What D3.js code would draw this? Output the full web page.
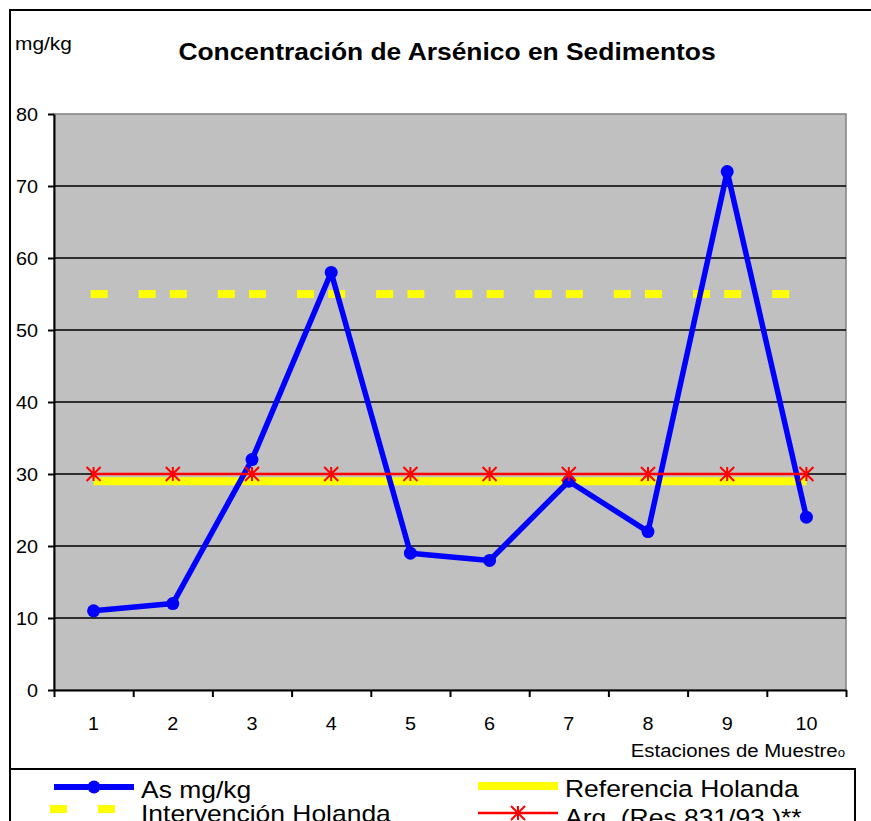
<!DOCTYPE html>
<html>
<head>
<meta charset="utf-8">
<script src="https://cdn.jsdelivr.net/npm/d3@7"></script>
<style>
  body { margin: 0; background: #fff; }
  text { font-family: "Liberation Sans", Arial, sans-serif; fill: #000; }
</style>
</head>
<body>
<div id="chart"></div>
<script>
// data
var estaciones = ["1", "2", "3", "4", "5", "6", "7", "8", "9", "10"];
var asValues = [11, 12, 32, 58, 19, 18, 29, 22, 72, 24];
var intervencion = [55, 55, 55, 55, 55, 55, 55, 55, 55, 55];
var referencia = [29, 29, 29, 29, 29, 29, 29, 29, 29, 29];
var argentina = [30, 30, 30, 30, 30, 30, 30, 30, 30, 30];
var yTicks = [0, 10, 20, 30, 40, 50, 60, 70, 80];

var W = 871, H = 821;
var margin = { top: 114, right: 25, bottom: 131, left: 54 };
var SX = 1.1; // the original font looks a little wide

var svg = d3.select("#chart").append("svg")
  .attr("width", W)
  .attr("height", H);

// outer frame (runs off the right and bottom edge)
svg.append("rect")
  .attr("x", 10).attr("y", 10)
  .attr("width", 900).attr("height", 900)
  .attr("fill", "#fff")
  .attr("stroke", "#000")
  .attr("stroke-width", 2);

var x = d3.scaleBand()
  .domain(estaciones)
  .range([margin.left, W - margin.right])
  .padding(0);

var xEdge = d3.scaleLinear()
  .domain([0, estaciones.length])
  .range([margin.left, W - margin.right]);

var y = d3.scaleLinear()
  .domain([0, 80])
  .range([H - margin.bottom, margin.top]);

function cx(d, i) { return x(estaciones[i]) + x.bandwidth() / 2; }

// plot area
svg.append("rect")
  .attr("x", margin.left)
  .attr("y", margin.top)
  .attr("width", W - margin.right - margin.left)
  .attr("height", H - margin.bottom - margin.top)
  .attr("fill", "#c0c0c0")
  .attr("stroke", "#808080")
  .attr("stroke-width", 1.5);

// gridlines
svg.append("g")
  .selectAll("line")
  .data(yTicks.slice(1, -1))
  .enter().append("line")
  .attr("x1", margin.left).attr("x2", W - margin.right)
  .attr("y1", function (d) { return y(d); })
  .attr("y2", function (d) { return y(d); })
  .attr("stroke", "#000")
  .attr("stroke-width", 1.5);

// y axis
var yAxis = svg.append("g")
  .attr("transform", "translate(" + margin.left + ",0)")
  .call(d3.axisLeft(y).tickValues(yTicks).tickSize(6).tickSizeOuter(0).tickFormat(""));
yAxis.selectAll("path, line").attr("stroke", "#000").attr("stroke-width", 2);

svg.append("g")
  .selectAll("text")
  .data(yTicks)
  .enter().append("text")
  .attr("transform", function (d) { return "translate(38," + (y(d) + 7) + ") scale(" + SX + ",1)"; })
  .attr("text-anchor", "end")
  .style("font-size", "18px")
  .text(function (d) { return d; });

// x axis, ticks between the stations
var xAxis = svg.append("g")
  .attr("transform", "translate(0," + (H - margin.bottom) + ")")
  .call(d3.axisBottom(xEdge).tickValues(d3.range(0, estaciones.length + 1)).tickSize(7).tickSizeOuter(0).tickFormat(""));
xAxis.selectAll("path, line").attr("stroke", "#000").attr("stroke-width", 2);

svg.append("g")
  .selectAll("text")
  .data(estaciones)
  .enter().append("text")
  .attr("transform", function (d) { return "translate(" + (x(d) + x.bandwidth() / 2) + ",730) scale(" + SX + ",1)"; })
  .attr("text-anchor", "middle")
  .style("font-size", "18px")
  .text(function (d) { return d; });

var xTitle = svg.append("text")
  .attr("transform", "translate(845,757) scale(" + SX + ",1)")
  .attr("text-anchor", "end")
  .style("font-size", "18.5px");
xTitle.append("tspan").text("Estaciones de Muestre");
xTitle.append("tspan").style("font-size", "12px").text("o");

// titles
svg.append("text")
  .attr("transform", "translate(447,60) scale(" + SX + ",1)")
  .attr("text-anchor", "middle")
  .style("font-size", "24px")
  .style("font-weight", "bold")
  .text("Concentración de Arsénico en Sedimentos");

svg.append("text")
  .attr("transform", "translate(15,50) scale(" + SX + ",1)")
  .style("font-size", "19px")
  .text("mg/kg");

// series
var line = d3.line()
  .x(cx)
  .y(function (d) { return y(d); });

// Intervención Holanda - dashes restart on each segment like the original
svg.append("g")
  .selectAll("line")
  .data(intervencion.slice(1))
  .enter().append("line")
  .attr("x1", function (d, i) { return cx(null, i) - 3; })
  .attr("x2", function (d, i) { return cx(null, i + 1); })
  .attr("y1", function (d, i) { return y(intervencion[i]); })
  .attr("y2", function (d) { return y(d); })
  .attr("stroke", "#ffff00")
  .attr("stroke-width", 8)
  .attr("stroke-dasharray", "17,31,17,40");

// Referencia Holanda
svg.append("path")
  .datum(referencia)
  .attr("d", line)
  .attr("fill", "none")
  .attr("stroke", "#ffff00")
  .attr("stroke-width", 8);

// As mg/kg
svg.append("path")
  .datum(asValues)
  .attr("d", line)
  .attr("fill", "none")
  .attr("stroke", "#0000ff")
  .attr("stroke-width", 5.5)
  .attr("stroke-linejoin", "round");

svg.append("g")
  .selectAll("circle")
  .data(asValues)
  .enter().append("circle")
  .attr("cx", cx)
  .attr("cy", function (d) { return y(d); })
  .attr("r", 6.5)
  .attr("fill", "#0000ff");

// Arg. (Res 831/93)
function star(s) {
  return "M" + (-s) + "," + (-s) + "L" + s + "," + s +
    "M" + (-s) + "," + s + "L" + s + "," + (-s) +
    "M0," + (-s) + "L0," + s;
}

svg.append("path")
  .datum(argentina)
  .attr("d", line)
  .attr("fill", "none")
  .attr("stroke", "#ff0000")
  .attr("stroke-width", 2.5);

svg.append("g")
  .selectAll("path")
  .data(argentina)
  .enter().append("path")
  .attr("transform", function (d, i) { return "translate(" + cx(d, i) + "," + y(d) + ")"; })
  .attr("d", star(7))
  .attr("stroke", "#ff0000")
  .attr("stroke-width", 2)
  .attr("fill", "none");

// legend (cut by the bottom of the picture)
var legend = svg.append("g");
legend.append("rect")
  .attr("x", 10).attr("y", 769)
  .attr("width", 845).attr("height", 120)
  .attr("fill", "#fff")
  .attr("stroke", "#000")
  .attr("stroke-width", 2);

var lg = [
  { name: "As mg/kg", x: 54, y: 787 },
  { name: "Referencia Holanda", x: 478, y: 786 },
  { name: "Intervención Holanda", x: 54, y: 809 },
  { name: "Arg. (Res 831/93 )**", x: 478, y: 813 }
];

legend.append("line")
  .attr("x1", lg[0].x).attr("x2", lg[0].x + 80)
  .attr("y1", lg[0].y).attr("y2", lg[0].y)
  .attr("stroke", "#0000ff").attr("stroke-width", 6);
legend.append("circle")
  .attr("cx", lg[0].x + 40).attr("cy", lg[0].y).attr("r", 6.5)
  .attr("fill", "#0000ff");

legend.append("line")
  .attr("x1", lg[1].x).attr("x2", lg[1].x + 80)
  .attr("y1", lg[1].y).attr("y2", lg[1].y)
  .attr("stroke", "#ffff00").attr("stroke-width", 8);

legend.append("line")
  .attr("x1", lg[2].x - 4).attr("x2", lg[2].x + 80)
  .attr("y1", lg[2].y).attr("y2", lg[2].y)
  .attr("stroke", "#ffff00").attr("stroke-width", 8)
  .attr("stroke-dasharray", "17,31,17,40");

legend.append("line")
  .attr("x1", lg[3].x).attr("x2", lg[3].x + 80)
  .attr("y1", lg[3].y).attr("y2", lg[3].y)
  .attr("stroke", "#ff0000").attr("stroke-width", 2.5);
legend.append("path")
  .attr("transform", "translate(" + (lg[3].x + 40) + "," + lg[3].y + ")")
  .attr("d", star(7))
  .attr("stroke", "#ff0000").attr("stroke-width", 2).attr("fill", "none");

legend.selectAll("text")
  .data(lg)
  .enter().append("text")
  .attr("transform", function (d) { return "translate(" + (d.x + 87) + "," + (d.y + 11 + (d.y > 800 ? 2 : 0)) + ") scale(1.15,1)"; })
  .style("font-size", "23px")
  .text(function (d) { return d.name; });
</script>
</body>
</html>
